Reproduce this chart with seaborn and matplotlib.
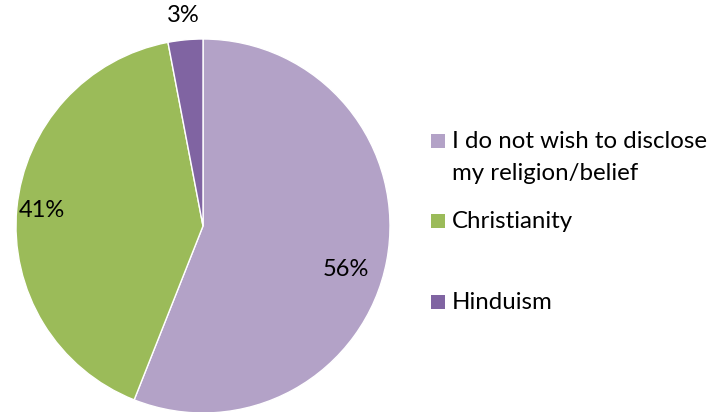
import numpy as np
import seaborn as sns
import matplotlib.pyplot as plt
from matplotlib.patches import Rectangle

sns.set_theme(style="white")
plt.rcParams['font.family'] = ['Lato', 'DejaVu Sans']

labels = ["I do not wish to disclose\nmy religion/belief", "Christianity", "Hinduism"]
shares = [56, 41, 3]
colors = ['#B3A2C7', '#9BBB59', '#8064A2']

fig = plt.figure(figsize=(7.15, 4.12), dpi=100)
W, H = 715, 412
cx, cy, r = 203, 226, 187
ax = fig.add_axes([(cx - r) / W, (H - cy - r) / H, 2 * r / W, 2 * r / H])

wedges, _ = ax.pie(shares, colors=colors, startangle=90, counterclock=False,
                   wedgeprops=dict(edgecolor='white', linewidth=1))
ax.set_xlim(-1, 1)
ax.set_ylim(-1, 1)
ax.set_aspect('equal')
ax.axis('off')

# percent labels, placed along each wedge's mid angle
label_r = [0.8, 0.865, 1.13]
angle_shift = [-6, 0, 0]
for w, v, lr, da in zip(wedges, shares, label_r, angle_shift):
    mid = np.deg2rad((w.theta1 + w.theta2) / 2 + da)
    ax.text(lr * np.cos(mid), lr * np.sin(mid), f"{v}%", ha='center', va='center',
            fontsize=17, color='black', clip_on=False)

# legend drawn by hand to keep the square on the first text line
legend_y = [141, 221, 302]
for lab, c, y in zip(labels, colors, legend_y):
    fig.add_artist(Rectangle((431 / W, 1 - (y + 7) / H), 14 / W, 14 / H,
                             transform=fig.transFigure, facecolor=c, edgecolor='none'))
    fig.text(452 / W, 1 - (y - 10) / H, lab, ha='left', va='top', fontsize=17.3,
             color='black', linespacing=1.62)

fig.savefig('out.png', dpi=100)
